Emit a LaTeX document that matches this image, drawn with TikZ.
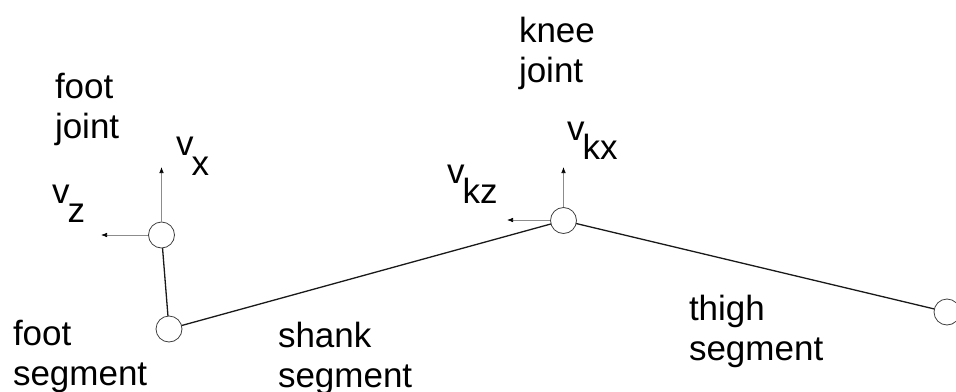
\documentclass[tikz,border=0pt]{standalone}
\usepackage{fontspec}
\setmainfont{Liberation Sans}
\usetikzlibrary{arrows.meta}
\begin{document}
\begin{tikzpicture}[x=1pt,y=-1pt,
  lbl/.style={anchor=base west,inner sep=0pt,outer sep=0pt,align=left,font=\fontsize{35}{40}\selectfont},
  jnt/.style={circle,draw=black!75,line width=0.8pt,fill=white,minimum size=26pt,inner sep=0pt},
  seg/.style={line width=1.3pt,black!90},
  vel/.style={line width=0.6pt,black!45,-{Latex[length=6pt,width=4.5pt,black]}}]
\useasboundingbox (0,0) rectangle (956,391);
% segments
\coordinate (fjc) at (161.5,235);
\coordinate (fsc) at (169,329);
\coordinate (knc) at (563.5,220.5);
\coordinate (thc) at (947,312);
\draw[seg] (fjc) -- (fsc) -- (knc) -- (thc);
\node[jnt] (fj) at (fjc) {};
\node[jnt] (fs) at (fsc) {};
\node[jnt] (kn) at (knc) {};
\node[jnt] (th) at (thc) {};
% velocity arrows
\coordinate (fxt) at (161.5,167);
\coordinate (fzt) at (101,235);
\coordinate (kxt) at (563.5,167);
\coordinate (kzt) at (507,220);
\draw[vel] (fj.north) -- (fxt);
\draw[vel] (fj.west) -- (fzt);
\draw[vel] (kn.north) -- (kxt);
\draw[vel] (kn.west |- kzt) -- (kzt);
% labels (base = baseline of last line)
\node[lbl] (tfj) at (55,138) {foot\\joint};
\node[lbl] (tvx) at (176,155) {v\kern-2pt\raisebox{-20pt}{x}};
\node[lbl] (tvz) at (52,203) {v\kern-2pt\raisebox{-19pt}{z}};
\node[lbl] (tkn) at (519,82) {knee\\joint};
\node[lbl] (tvkx) at (567,140) {v\kern-2pt\raisebox{-19pt}{kx}};
\node[lbl] (tvkz) at (447,183) {v\kern-2pt\raisebox{-20pt}{kz}};
\node[lbl] (tfs) at (13,385) {foot\\segment};
\node[lbl] (tsh) at (278,387) {shank\\segment};
\node[lbl] (tth) at (689,360) {thigh\\segment};
\end{tikzpicture}
\end{document}
